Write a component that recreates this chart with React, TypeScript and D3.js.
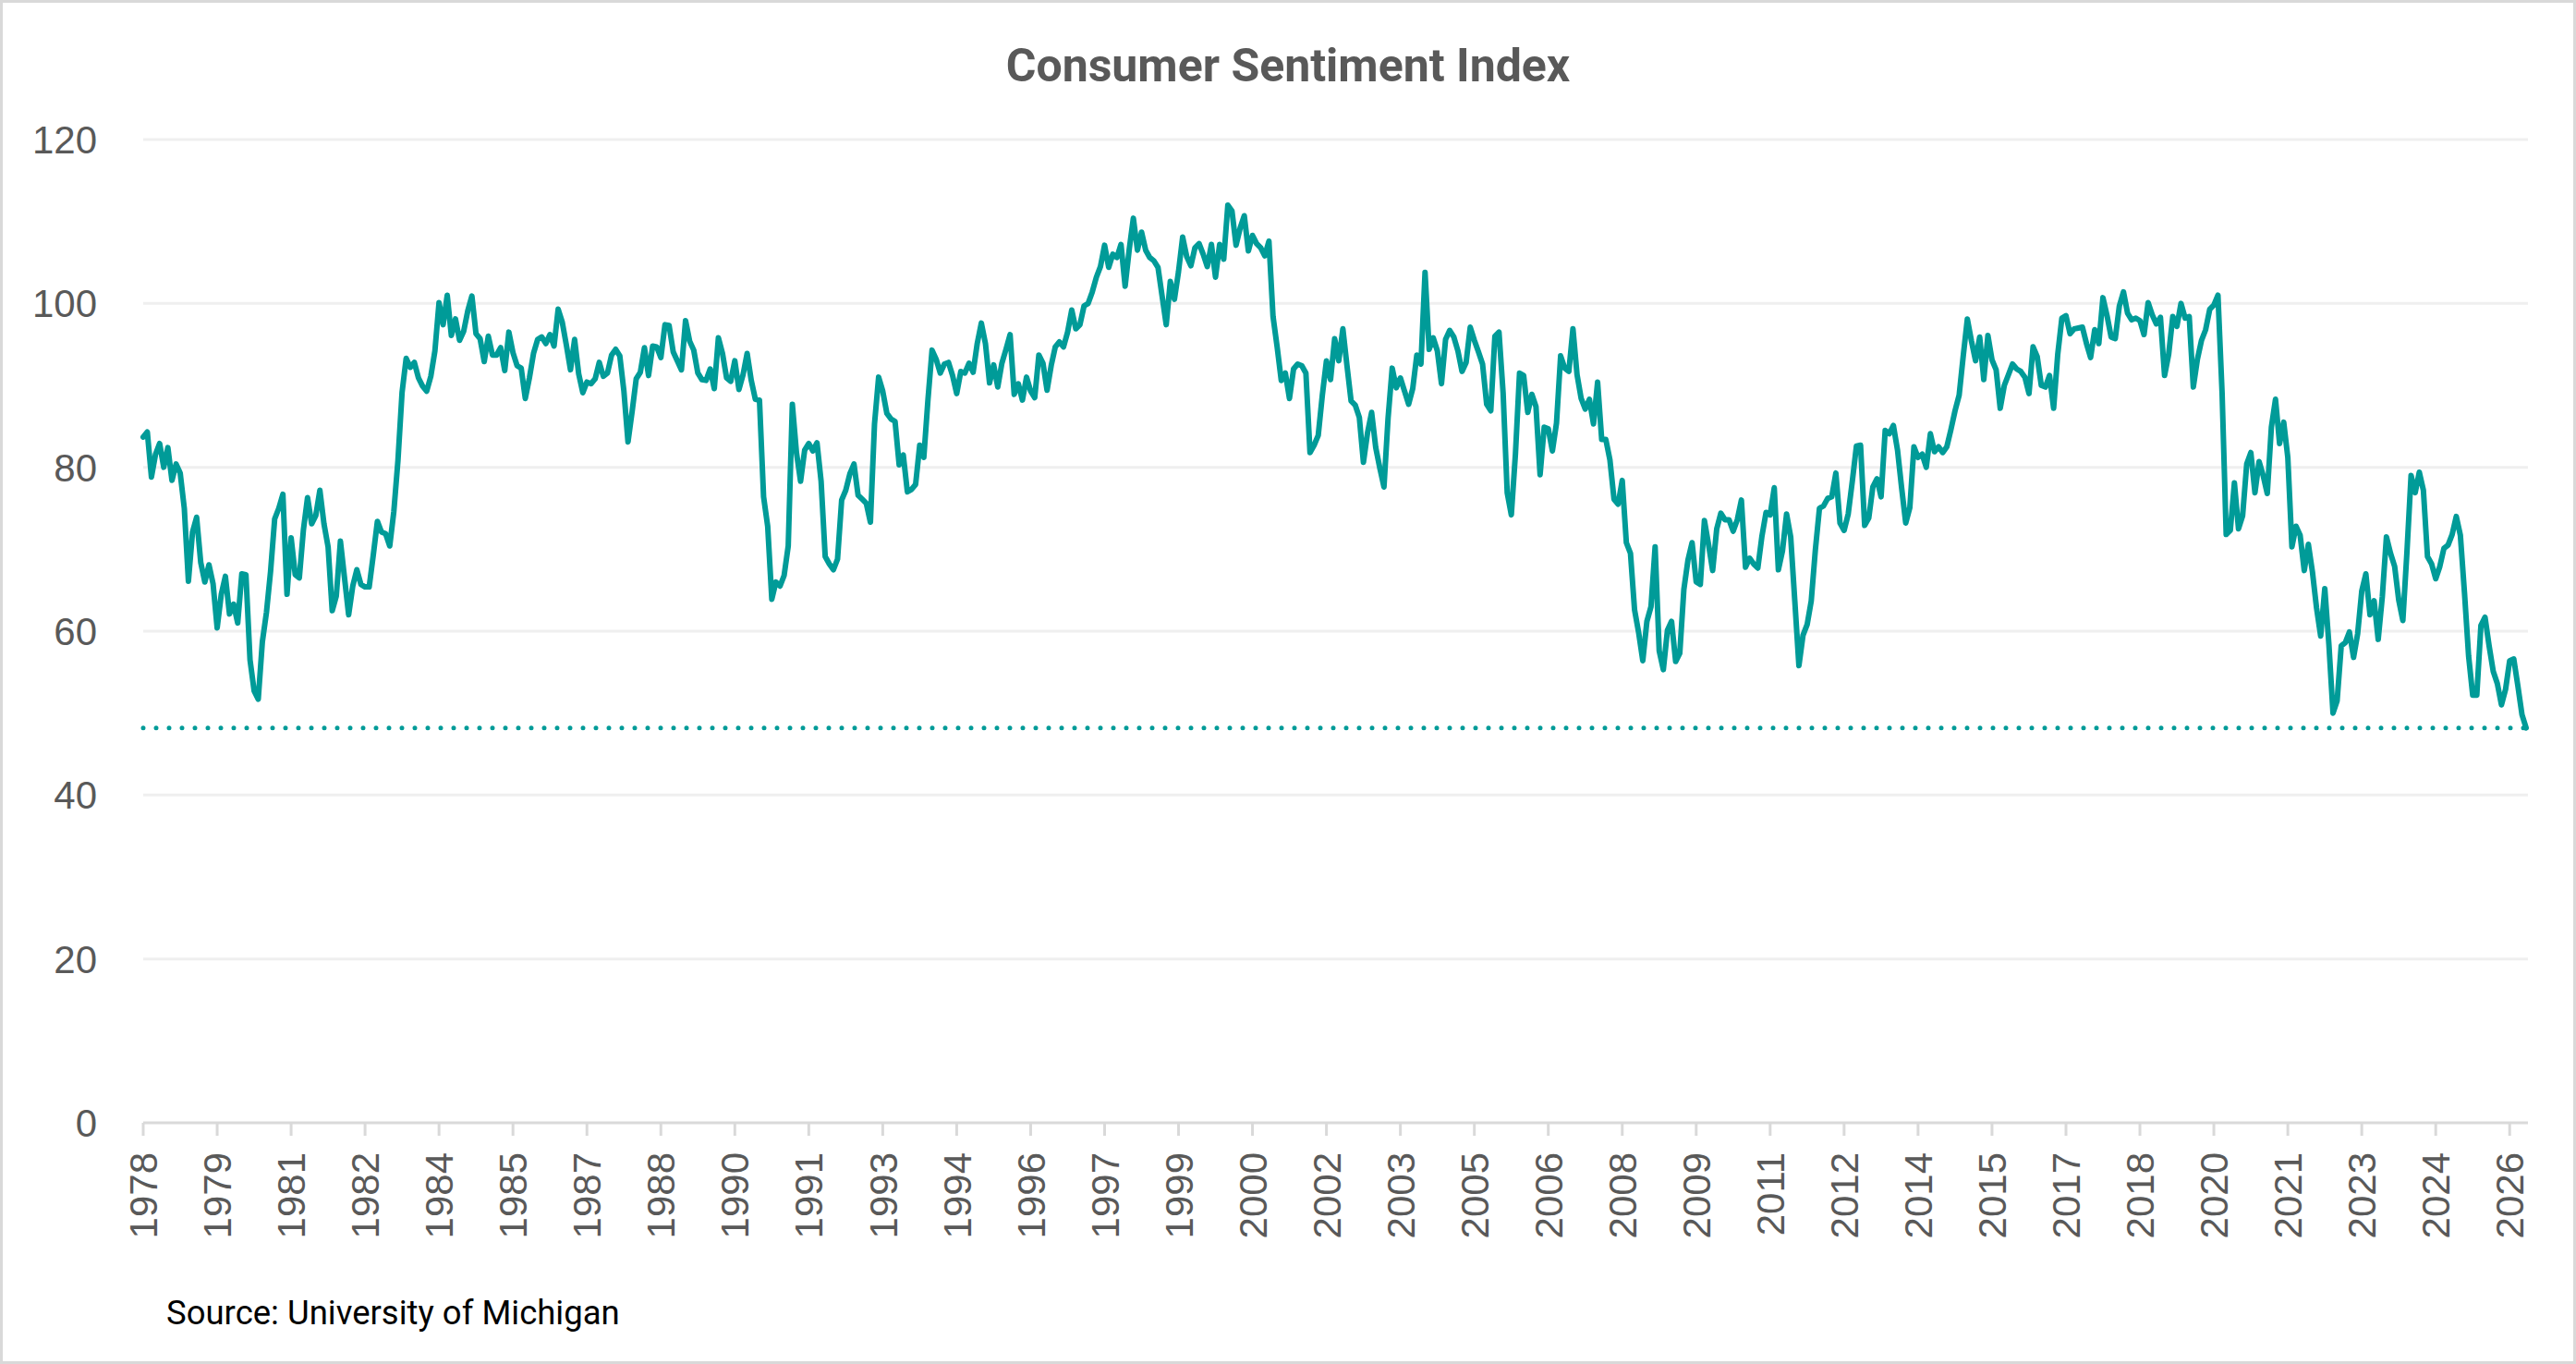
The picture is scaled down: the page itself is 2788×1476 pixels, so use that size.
import * as d3 from 'd3';

// University of Michigan consumer sentiment, monthly from Jan 1978
const startYear = 1978;
const s1978_1987 = [
  83.7, 84.3, 78.8, 81.6, 82.9, 80.0, 82.4, 78.4, 80.4, 79.3, 75.0, 66.1,
  72.1, 73.9, 68.4, 66.0, 68.1, 65.8, 60.4, 64.5, 66.7, 62.1, 63.3, 61.0,
  67.0, 66.9, 56.5, 52.7, 51.7, 58.7, 62.3, 67.3, 73.7, 75.0, 76.7, 64.5,
  71.4, 66.9, 66.5, 72.4, 76.3, 73.1, 74.1, 77.2, 73.1, 70.3, 62.5, 64.3,
  71.0, 66.5, 62.0, 65.5, 67.5, 65.7, 65.4, 65.4, 69.3, 73.4, 72.1, 71.9,
  70.4, 74.6, 80.8, 89.1, 93.3, 92.2, 92.8, 90.9, 89.9, 89.3, 91.1, 94.2,
  100.1, 97.4, 101.0, 96.1, 98.1, 95.5, 96.6, 99.1, 100.9, 96.3, 95.7, 92.9,
  96.0, 93.7, 93.7, 94.6, 91.8, 96.5, 94.0, 92.4, 92.1, 88.4, 90.9, 93.9,
  95.6, 95.9, 95.1, 96.2, 94.8, 99.3, 97.7, 94.9, 91.9, 95.6, 91.4, 89.1,
  90.4, 90.2, 90.8, 92.8, 91.1, 91.5, 93.7, 94.4, 93.6, 89.3, 83.1, 86.8,
];
const s1988_1997 = [
  90.8, 91.6, 94.6, 91.2, 94.8, 94.7, 93.4, 97.4, 97.3, 94.1, 93.0, 91.9,
  97.9, 95.4, 94.3, 91.5, 90.7, 90.6, 92.0, 89.6, 95.8, 93.9, 90.9, 90.5,
  93.0, 89.5, 91.3, 93.9, 90.6, 88.3, 88.2, 76.4, 72.8, 63.9, 66.0, 65.5,
  66.8, 70.4, 87.7, 81.8, 78.3, 82.1, 82.9, 82.0, 83.0, 78.3, 69.1, 68.2,
  67.5, 68.8, 76.0, 77.2, 79.2, 80.4, 76.6, 76.1, 75.6, 73.3, 85.3, 91.0,
  89.3, 86.6, 85.9, 85.6, 80.3, 81.5, 77.0, 77.3, 77.9, 82.7, 81.2, 88.2,
  94.3, 93.2, 91.5, 92.6, 92.8, 91.2, 89.0, 91.7, 91.5, 92.7, 91.6, 95.1,
  97.6, 95.1, 90.3, 92.5, 89.8, 92.7, 94.4, 96.2, 88.9, 90.2, 88.2, 91.0,
  89.3, 88.5, 93.7, 92.7, 89.4, 92.4, 94.7, 95.3, 94.7, 96.5, 99.2, 96.9,
  97.4, 99.7, 100.0, 101.4, 103.2, 104.5, 107.1, 104.4, 106.0, 105.6, 107.2, 102.1,
];
const s1998_2007 = [
  106.6, 110.4, 106.5, 108.7, 106.5, 105.6, 105.2, 104.4, 100.9, 97.4, 102.7, 100.5,
  103.9, 108.1, 105.7, 104.6, 106.8, 107.3, 106.0, 104.5, 107.2, 103.2, 107.2, 105.4,
  112.0, 111.3, 107.1, 109.2, 110.7, 106.4, 108.3, 107.3, 106.8, 105.8, 107.6, 98.4,
  94.7, 90.6, 91.5, 88.4, 92.0, 92.6, 92.4, 91.5, 81.8, 82.7, 83.9, 88.8,
  93.0, 90.7, 95.7, 93.0, 96.9, 92.4, 88.1, 87.6, 86.1, 80.6, 84.2, 86.7,
  82.4, 79.9, 77.6, 86.0, 92.1, 89.7, 90.9, 89.3, 87.7, 89.6, 93.7, 92.6,
  103.8, 94.4, 95.8, 94.2, 90.2, 95.6, 96.7, 95.9, 94.2, 91.7, 92.8, 97.1,
  95.5, 94.1, 92.6, 87.7, 86.9, 96.0, 96.5, 89.1, 76.9, 74.2, 81.6, 91.5,
  91.2, 86.7, 88.9, 87.4, 79.1, 84.9, 84.7, 82.0, 85.4, 93.6, 92.1, 91.7,
  96.9, 91.3, 88.4, 87.1, 88.3, 85.3, 90.4, 83.4, 83.4, 80.9, 76.1, 75.5,
];
const s2008_2017 = [
  78.4, 70.8, 69.5, 62.6, 59.8, 56.4, 61.2, 63.0, 70.3, 57.6, 55.3, 60.1,
  61.2, 56.3, 57.3, 65.1, 68.7, 70.8, 66.0, 65.7, 73.5, 70.6, 67.4, 72.5,
  74.4, 73.6, 73.6, 72.2, 73.6, 76.0, 67.8, 68.9, 68.2, 67.7, 71.6, 74.5,
  74.2, 77.5, 67.5, 69.8, 74.3, 71.5, 63.7, 55.8, 59.5, 60.8, 63.7, 69.9,
  75.0, 75.3, 76.2, 76.4, 79.3, 73.2, 72.3, 74.3, 78.3, 82.6, 82.7, 72.9,
  73.8, 77.6, 78.6, 76.4, 84.5, 84.1, 85.1, 82.1, 77.5, 73.2, 75.1, 82.5,
  81.2, 81.6, 80.0, 84.1, 81.9, 82.5, 81.8, 82.5, 84.6, 86.9, 88.8, 93.6,
  98.1, 95.4, 93.0, 95.9, 90.7, 96.1, 93.1, 91.9, 87.2, 90.0, 91.3, 92.6,
  92.0, 91.7, 91.0, 89.0, 94.7, 93.5, 90.0, 89.8, 91.2, 87.2, 93.8, 98.2,
  98.5, 96.3, 96.9, 97.0, 97.1, 95.1, 93.4, 96.8, 95.1, 100.7, 98.5, 95.9,
];
const s2018_2026 = [
  95.7, 99.7, 101.4, 98.8, 98.0, 98.2, 97.9, 96.2, 100.1, 98.6, 97.5, 98.3,
  91.2, 93.8, 98.4, 97.2, 100.0, 98.2, 98.4, 89.8, 93.2, 95.5, 96.8, 99.3,
  99.8, 101.0, 89.1, 71.8, 72.3, 78.1, 72.5, 74.1, 80.4, 81.8, 76.9, 80.7,
  79.0, 76.8, 84.9, 88.3, 82.9, 85.5, 81.2, 70.3, 72.8, 71.7, 67.4, 70.6,
  67.2, 62.8, 59.4, 65.2, 58.4, 50.0, 51.5, 58.2, 58.6, 59.9, 56.8, 59.7,
  64.9, 67.0, 62.0, 63.7, 59.0, 64.2, 71.5, 69.5, 67.9, 63.8, 61.3, 69.7,
  79.0, 76.9, 79.4, 77.2, 69.1, 68.2, 66.4, 67.9, 70.1, 70.5, 71.8, 74.0,
  71.7, 64.7, 57.0, 52.2, 52.2, 60.7, 61.7, 58.2, 55.1, 53.6, 51.0, 52.9,
  56.4, 56.6, 53.3, 49.8, 48.2,
];

const tickLabels = [
  '1978', '1979', '1981', '1982', '1984', '1985', '1987', '1988', '1990', '1991', '1993',
  '1994', '1996', '1997', '1999', '2000', '2002', '2003', '2005', '2006', '2008', '2009',
  '2011', '2012', '2014', '2015', '2017', '2018', '2020', '2021', '2023', '2024', '2026',
];
const tickStep = 18; // months between labels
const yTicks = [0, 20, 40, 60, 80, 100, 120];

const values = [...s1978_1987, ...s1988_1997, ...s1998_2007, ...s2008_2017, ...s2018_2026];
const latest = values[values.length - 1];

const W = 2788;
const H = 1476;
const teal = '#009b98';
const grey = '#595959';

export default function App() {
  const left = 155;
  const right = 2734;
  const x = d3.scaleLinear().domain([0, values.length - 1]).range([left, right]);
  const y = d3.scaleLinear().domain([0, 120]).range([1215, 151]);
  const line = d3
    .line<number>()
    .x((_, i) => x(i))
    .y((d) => y(d));

  return (
    <>
      <style>{`body{margin:0}`}</style>
      <svg width={W} height={H} style={{ display: 'block' }}>
        <rect x={0} y={0} width={W} height={H} fill="#fff" />
        <rect x={1.5} y={1.5} width={W - 3} height={H - 3} fill="none" stroke="#d9d9d9" strokeWidth={3} />
        <text
          x={W / 2}
          y={88}
          textAnchor="middle"
          fontFamily="Roboto, sans-serif"
          fontWeight={700}
          fontSize={50}
          fill={grey}
        >
          Consumer Sentiment Index
        </text>

        {yTicks.map((t) => (
          <g key={t}>
            {t > 0 && (
              <line x1={left} x2={right + 2} y1={y(t)} y2={y(t)} stroke="#efefef" strokeWidth={3} />
            )}
            <text
              x={105}
              y={y(t)}
              dy="0.36em"
              textAnchor="end"
              fontFamily="'Liberation Sans', Arial, sans-serif"
              fontSize={42}
              fill={grey}
            >
              {t}
            </text>
          </g>
        ))}

        <line x1={left} x2={right + 2} y1={y(0)} y2={y(0)} stroke="#d9d9d9" strokeWidth={3} />
        {tickLabels.map((lab, i) => {
          const tx = x(i * tickStep);
          return (
            <g key={lab + i}>
              <line x1={tx} x2={tx} y1={y(0)} y2={y(0) + 14} stroke="#d9d9d9" strokeWidth={3} />
              <text
                transform={`translate(${tx},1247) rotate(-90)`}
                dy="0.36em"
                textAnchor="end"
                fontFamily="'Liberation Sans', Arial, sans-serif"
                fontSize={42}
                fill={grey}
              >
                {lab}
              </text>
            </g>
          );
        })}

        <line
          x1={left}
          x2={right}
          y1={y(latest)}
          y2={y(latest)}
          stroke={teal}
          strokeWidth={5}
          strokeDasharray="0 14"
          strokeLinecap="round"
        />
        <path
          d={line(values) ?? ''}
          fill="none"
          stroke={teal}
          strokeWidth={6}
          strokeLinejoin="round"
          strokeLinecap="round"
        />

        <text x={180} y={1433} fontFamily="Roboto, sans-serif" fontSize={36.5} fill="#000">
          Source: University of Michigan
        </text>
      </svg>
    </>
  );
}
